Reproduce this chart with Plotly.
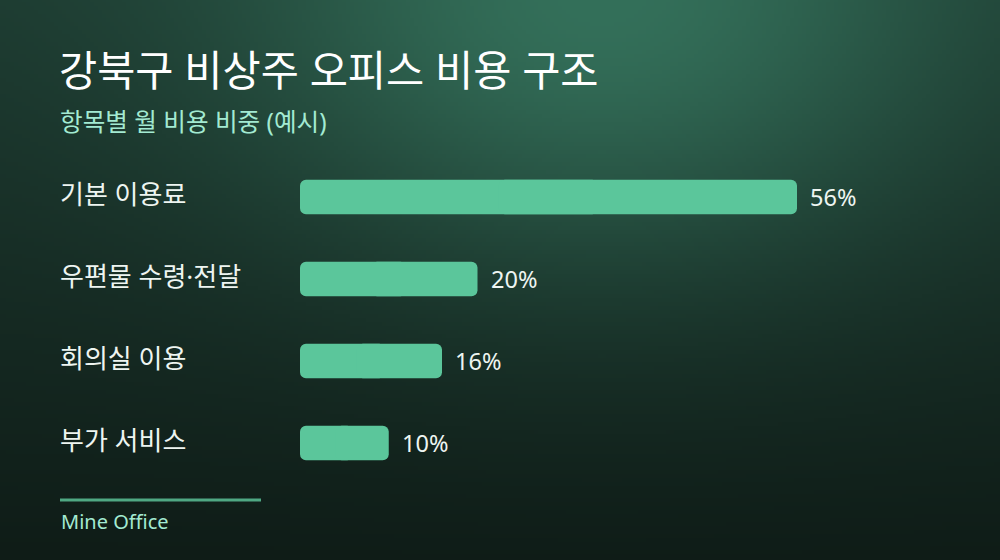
import base64
import struct
import zlib

import numpy as np
import plotly.graph_objects as go

# data
categories = ["기본 이용료", "우편물 수령·전달", "회의실 이용", "부가 서비스"]
shares = [56, 20, 16, 10]
value_labels = ["56%", "20%", "16%", "10%"]

title = "강북구 비상주 오피스 비용 구조"
subtitle = "항목별 월 비용 비중 (예시)"
source = "Mine Office"

W, H = 1000, 560
L, R, T, B = 300, 79, 156, 76
PW, PH = W - L - R, H - T - B
FONT = "Noto Sans, Noto Sans CJK KR, sans-serif"
BAR = "#5bc69b"


def px2x(px):
    return (px - L) / PW


def py2y(py):
    return (H - B - py) / PH


def background_png(w=250, h=140):
    # dark green backdrop with a soft glow near the top
    ys, xs = np.mgrid[0:h, 0:w]
    xs = xs * (W / w)
    ys = ys * (H / h)
    t = (ys / H)[..., None]
    top = np.array([29, 58, 48], float)
    bottom = np.array([15, 28, 23], float)
    base = top * (1 - t) + bottom * t
    glow = np.exp(-((xs - 600) / 360) ** 2 - ((ys + 10) / 260) ** 2)[..., None]
    glow_col = np.array([52, 112, 90], float)
    img = base * (1 - glow) + glow_col * glow
    img = np.clip(img, 0, 255).astype(np.uint8)
    raw = b"".join(b"\x00" + row.tobytes() for row in img)

    def chunk(tag, data):
        return struct.pack(">I", len(data)) + tag + data + struct.pack(">I", zlib.crc32(tag + data) & 0xffffffff)

    png = (b"\x89PNG\r\n\x1a\n"
           + chunk(b"IHDR", struct.pack(">IIBBBBB", w, h, 8, 2, 0, 0, 0))
           + chunk(b"IDAT", zlib.compress(raw, 9))
           + chunk(b"IEND", b""))
    return "data:image/png;base64," + base64.b64encode(png).decode()


fig = go.Figure()

# each bar is drawn as two overlapping halves so both ends get rounded corners
left_len = [v * 0.6 for v in shares]
right_start = [v * 0.4 for v in shares]
fig.add_trace(go.Bar(
    x=[-l for l in left_len], base=left_len, y=categories,
    orientation="h", width=0.42,
    marker=dict(color=BAR, cornerradius=6, line=dict(width=0)),
    hoverinfo="skip",
))
fig.add_trace(go.Bar(
    x=[v - s for v, s in zip(shares, right_start)], base=right_start, y=categories,
    orientation="h", width=0.42,
    marker=dict(color=BAR, cornerradius=6, line=dict(width=0)),
    hoverinfo="skip",
))

fig.add_layout_image(dict(
    source=background_png(), xref="paper", yref="paper",
    x=px2x(0), y=py2y(0), sizex=W / PW, sizey=H / PH,
    xanchor="left", yanchor="top", sizing="stretch", layer="below",
))

shapes = [dict(type="line", xref="paper", yref="paper",
               x0=px2x(60), x1=px2x(261), y0=py2y(500), y1=py2y(500),
               line=dict(color="#4fa883", width=3))]

annotations = [
    dict(text=title, x=px2x(57), y=py2y(70), xref="paper", yref="paper",
         xanchor="left", yanchor="middle", showarrow=False,
         font=dict(family=FONT, size=41.5, color="#ffffff", weight=400)),
    dict(text=subtitle, x=px2x(58), y=py2y(122), xref="paper", yref="paper",
         xanchor="left", yanchor="middle", showarrow=False,
         font=dict(family=FONT, size=24.6, color="#a3ead2")),
    dict(text=source, x=px2x(59), y=py2y(521), xref="paper", yref="paper",
         xanchor="left", yanchor="middle", showarrow=False,
         font=dict(family=FONT, size=20, color="#a3ead2")),
]
for cat, v, lab in zip(categories, shares, value_labels):
    annotations.append(dict(text=cat, x=px2x(58), y=cat, xref="paper", yref="y",
                            xanchor="left", yanchor="middle", yshift=3, showarrow=False,
                            font=dict(family=FONT, size=26, color="#eef5f1")))
    annotations.append(dict(text=lab, x=v, y=cat, xref="x", yref="y",
                            xanchor="left", yanchor="middle", xshift=11, showarrow=False,
                            font=dict(family=FONT, size=23.5, color="#eef5f1")))

fig.update_layout(
    width=W, height=H,
    margin=dict(l=L, r=R, t=T, b=B),
    paper_bgcolor="#142821",
    plot_bgcolor="rgba(0,0,0,0)",
    showlegend=False,
    barmode="overlay",
    shapes=shapes,
    annotations=annotations,
    xaxis=dict(range=[0, PW / 8.875], visible=False, fixedrange=True),
    yaxis=dict(autorange="reversed", visible=False, fixedrange=True,
               categoryorder="array", categoryarray=categories),
)

fig.write_html("out.html", config={"displayModeBar": False},
               post_script="document.body.style.margin='0';")
